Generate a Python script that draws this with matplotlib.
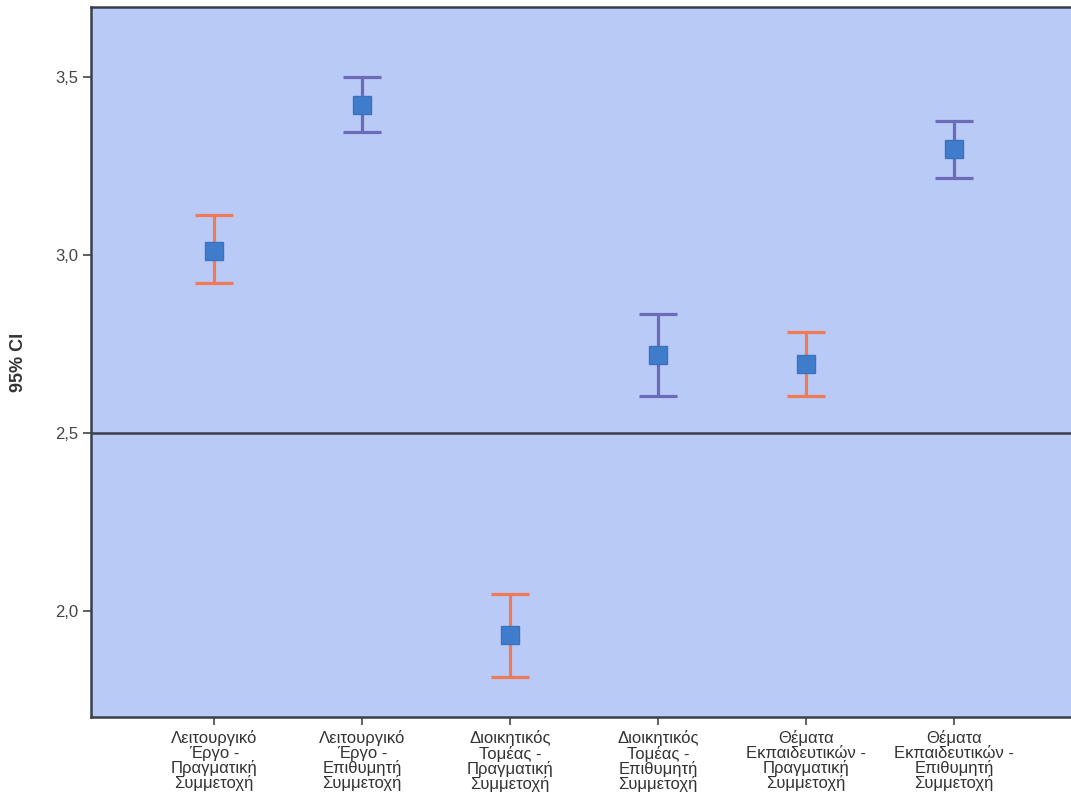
import numpy as np
import matplotlib
matplotlib.use("Agg")
import matplotlib.pyplot as plt

plt.rcParams['font.family'] = ['Liberation Sans', 'DejaVu Sans']

categories = [
    "Λειτουργικό\nΈργο -\nΠραγματική\nΣυμμετοχή",
    "Λειτουργικό\nΈργο -\nΕπιθυμητή\nΣυμμετοχή",
    "Διοικητικός\nΤομέας -\nΠραγματική\nΣυμμετοχή",
    "Διοικητικός\nΤομέας -\nΕπιθυμητή\nΣυμμετοχή",
    "Θέματα\nΕκπαιδευτικών -\nΠραγματική\nΣυμμετοχή",
    "Θέματα\nΕκπαιδευτικών -\nΕπιθυμητή\nΣυμμετοχή",
]
means = [3.011, 3.421, 1.933, 2.719, 2.694, 3.298]
upper = [3.112, 3.500, 2.048, 2.834, 2.784, 3.376]
lower = [2.921, 3.346, 1.815, 2.604, 2.604, 3.216]
bar_colors = ["#f07a55", "#6b6bb8", "#f07a55", "#6b6bb8", "#f07a55", "#6b6bb8"]
yticks = [2.0, 2.5, 3.0, 3.5]
ref_value = 2.5

fig = plt.figure(figsize=(10.71, 8.07), dpi=100)
ax = fig.add_axes([0.085, 0.1115, 0.915, 0.8798])
ax.set_facecolor("#b9caf7")

x = np.arange(1, len(categories) + 1)
for xi, m, lo, hi, c in zip(x, means, lower, upper, bar_colors):
    ax.errorbar(xi, m, yerr=[[m - lo], [hi - m]], fmt='none', ecolor=c,
                elinewidth=2.3, capsize=13.5, capthick=2.3, zorder=2)
ax.plot(x, means, 's', color="#3f7dcc", markersize=13, markeredgecolor="#3a72bc",
        linestyle='none', zorder=3)

ax.axhline(ref_value, color="#3a3f4a", linewidth=1.8, zorder=1)

ax.set_xlim(0.17, 6.79)
ax.set_ylim(1.702, 3.697)
ax.set_xticks(x)
ax.set_xticklabels(categories, fontsize=12, color="#333333", linespacing=0.95)
ax.set_yticks(yticks)
ax.set_yticklabels([f"{v:.1f}".replace('.', ',') for v in yticks], fontsize=12, color="#444444")
ax.tick_params(axis='both', direction='out', length=6, width=1.2, color="#444444")
ax.set_ylabel("95% CI", fontsize=13, fontweight='bold', color="#333333", labelpad=20)

for side in ['left', 'bottom', 'top']:
    ax.spines[side].set_color("#3a3f4a")
    ax.spines[side].set_linewidth(1.8)
ax.spines['right'].set_visible(False)

fig.savefig("out.png", dpi=100)
